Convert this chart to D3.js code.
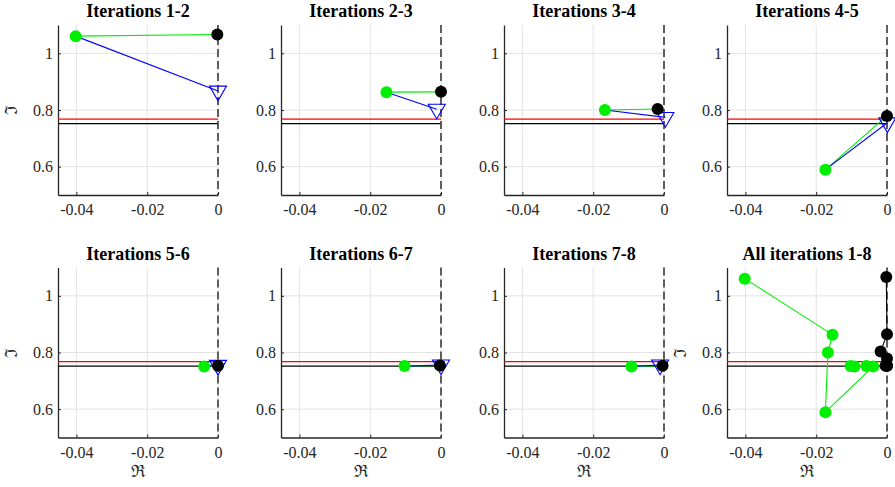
<!DOCTYPE html>
<html><head><meta charset="utf-8">
<script src="https://cdn.jsdelivr.net/npm/d3@7"></script>
<style>body{margin:0;background:#fff}svg{display:block}</style>
</head><body>
<svg id="chart" width="895" height="487" font-family="Liberation Serif"></svg>
<script>
// ---- data ----
const titles = ["Iterations 1-2","Iterations 2-3","Iterations 3-4","Iterations 4-5",
                "Iterations 5-6","Iterations 6-7","Iterations 7-8","All iterations 1-8"];
// green: current iterate (Re, Im)
const greenRe = [-0.0402, -0.0154, -0.0167, -0.0174, -0.0039, -0.0103, -0.0092, -0.0058];
const greenIm = [ 1.0607,  0.863,   0.800,   0.5895,  0.751,   0.752,   0.751,   0.752];
// black: next point
const blackRe = [-0.0002, 0.0000, -0.0018, 0.0000, 0.0000, -0.0003, -0.0004, 0.0000];
const blackIm = [ 1.0667, 0.864,   0.8035, 0.779,  0.7535,  0.754,   0.753,   0.753];
// blue triangles: predicted point
const triRe = [0.0000, -0.0012, 0.0004, 0.0001, 0.0000, 0.0000, -0.0011];
const triIm = [0.867,   0.803,  0.774,  0.755,  0.755,  0.756,   0.756];
const refRedIm = 0.768;
const refBlackIm = 0.752;
const xTicks = [-0.04, -0.02, 0];
const yTicks = [0.6, 0.8, 1];
const xDomain = [-0.0452, 0];
const yDomain = [0.5, 1.1];
const xLabelText = "\u211C";
const yLabelText = "\u2111";

// ---- layout ----
const svg = d3.select("#chart");
const W = 160, H = 170;
const lefts = [58, 281, 504, 727];
const tops = [25, 267.5];
const axisCol = "#262626";
const FONT = '"Liberation Serif", "Times New Roman", Tinos';

function setFont(sel, size, bold) {
  sel.attr("font-family", "Liberation Serif").attr("font-size", size)
     .style("font-family", FONT, "important").style("font-size", size + "px", "important");
  if (bold) sel.attr("font-weight", "bold").style("font-weight", "bold", "important");
  return sel;
}

function panel(idx) {
  const col = idx % 4, row = Math.floor(idx / 4);
  const g = svg.append("g").attr("transform", `translate(${lefts[col]},${tops[row]})`);
  const x = d3.scaleLinear().domain(xDomain).range([0, W]);
  const y = d3.scaleLinear().domain(yDomain).range([H, 0]);

  // grid
  g.append("g").selectAll("line").data(xTicks).join("line")
    .attr("x1", d => x(d)).attr("x2", d => x(d)).attr("y1", 0).attr("y2", H)
    .attr("stroke", "#e3e3e3").attr("stroke-width", 1);
  g.append("g").selectAll("line").data(yTicks).join("line")
    .attr("x1", 0).attr("x2", W).attr("y1", d => y(d)).attr("y2", d => y(d))
    .attr("stroke", "#e3e3e3").attr("stroke-width", 1);

  // axes
  const fmt = d => d === 0 ? "0" : String(d);
  const xa = g.append("g").attr("transform", `translate(0,${H})`)
    .call(d3.axisBottom(x).tickValues(xTicks).tickFormat(fmt).tickSizeInner(-3).tickSizeOuter(0).tickPadding(9));
  const ya = g.append("g")
    .call(d3.axisLeft(y).tickValues(yTicks).tickFormat(fmt).tickSizeInner(-3).tickSizeOuter(0).tickPadding(5));
  [xa, ya].forEach(a => {
    a.attr("font-family", "Liberation Serif").attr("font-size", 16);
    a.select(".domain").attr("stroke", axisCol).attr("stroke-width", 1.3);
    a.selectAll(".tick line").attr("stroke", axisCol);
    setFont(a.selectAll(".tick text").attr("fill", axisCol), 16, false);
  });

  // reference horizontal lines
  g.append("line").attr("x1", x(xDomain[0])).attr("x2", x(0))
    .attr("y1", y(refRedIm)).attr("y2", y(refRedIm)).attr("stroke", "#ff0000").attr("stroke-width", 1.3);
  g.append("line").attr("x1", x(xDomain[0])).attr("x2", x(0))
    .attr("y1", y(refBlackIm)).attr("y2", y(refBlackIm)).attr("stroke", "#000").attr("stroke-width", 1.3);

  // dashed imaginary axis
  g.append("line").attr("x1", x(0)).attr("x2", x(0)).attr("y1", 0).attr("y2", H)
    .attr("stroke", "#3a3a3a").attr("stroke-width", 1.6).attr("stroke-dasharray", "8,4");

  const line = d3.line().x(d => x(d[0])).y(d => y(d[1]));

  if (idx < 7) {
    const gp = [greenRe[idx], greenIm[idx]];
    const bp = [blackRe[idx], blackIm[idx]];
    const tp = [triRe[idx], triIm[idx]];
    g.append("path").attr("d", line([gp, bp])).attr("fill", "none").attr("stroke", "#00ee00").attr("stroke-width", 1.1);
    g.append("path").attr("d", line([gp, tp])).attr("fill", "none").attr("stroke", "#0000ff").attr("stroke-width", 1.1);
    const s = 17, h = 14.7;
    const tx = x(tp[0]), ty = y(tp[1]);
    g.append("path")
      .attr("d", `M${tx - s/2},${ty - h/3}L${tx + s/2},${ty - h/3}L${tx},${ty + 2*h/3}Z`)
      .attr("fill", "none").attr("stroke", "#0000ff").attr("stroke-width", 1.1);
    g.append("circle").attr("cx", x(gp[0])).attr("cy", y(gp[1])).attr("r", 6).attr("fill", "#00ee00");
    g.append("circle").attr("cx", x(bp[0])).attr("cy", y(bp[1])).attr("r", 6).attr("fill", "#000");
  } else {
    const gpts = greenRe.map((r, i) => [r, greenIm[i]]);
    const bpts = blackRe.map((r, i) => [r, blackIm[i]]);
    g.append("path").attr("d", line(gpts)).attr("fill", "none").attr("stroke", "#00ee00").attr("stroke-width", 1.1);
    g.append("path").attr("d", line(bpts)).attr("fill", "none").attr("stroke", "#000").attr("stroke-width", 1.1);
    g.append("g").selectAll("circle").data(gpts).join("circle")
      .attr("cx", d => x(d[0])).attr("cy", d => y(d[1])).attr("r", 6).attr("fill", "#00ee00");
    g.append("g").selectAll("circle").data(bpts).join("circle")
      .attr("cx", d => x(d[0])).attr("cy", d => y(d[1])).attr("r", 6).attr("fill", "#000");
  }

  // title
  setFont(g.append("text").attr("x", W / 2).attr("y", -8).attr("text-anchor", "middle").attr("fill", "#000"), 18, true)
    .text(titles[idx]);

  if (row === 1) {
    setFont(g.append("text").attr("x", W / 2).attr("y", H + 39).attr("text-anchor", "middle").attr("fill", axisCol), 17, false)
      .text(xLabelText);
  }
  if (col === 0 || idx === 7) {
    setFont(g.append("text").attr("transform", `translate(${-41},${H / 2}) rotate(-90)`).attr("text-anchor", "middle").attr("fill", axisCol), 17, false)
      .text(yLabelText);
  }
}
for (let i = 0; i < 8; i++) panel(i);
</script>
</body></html>
